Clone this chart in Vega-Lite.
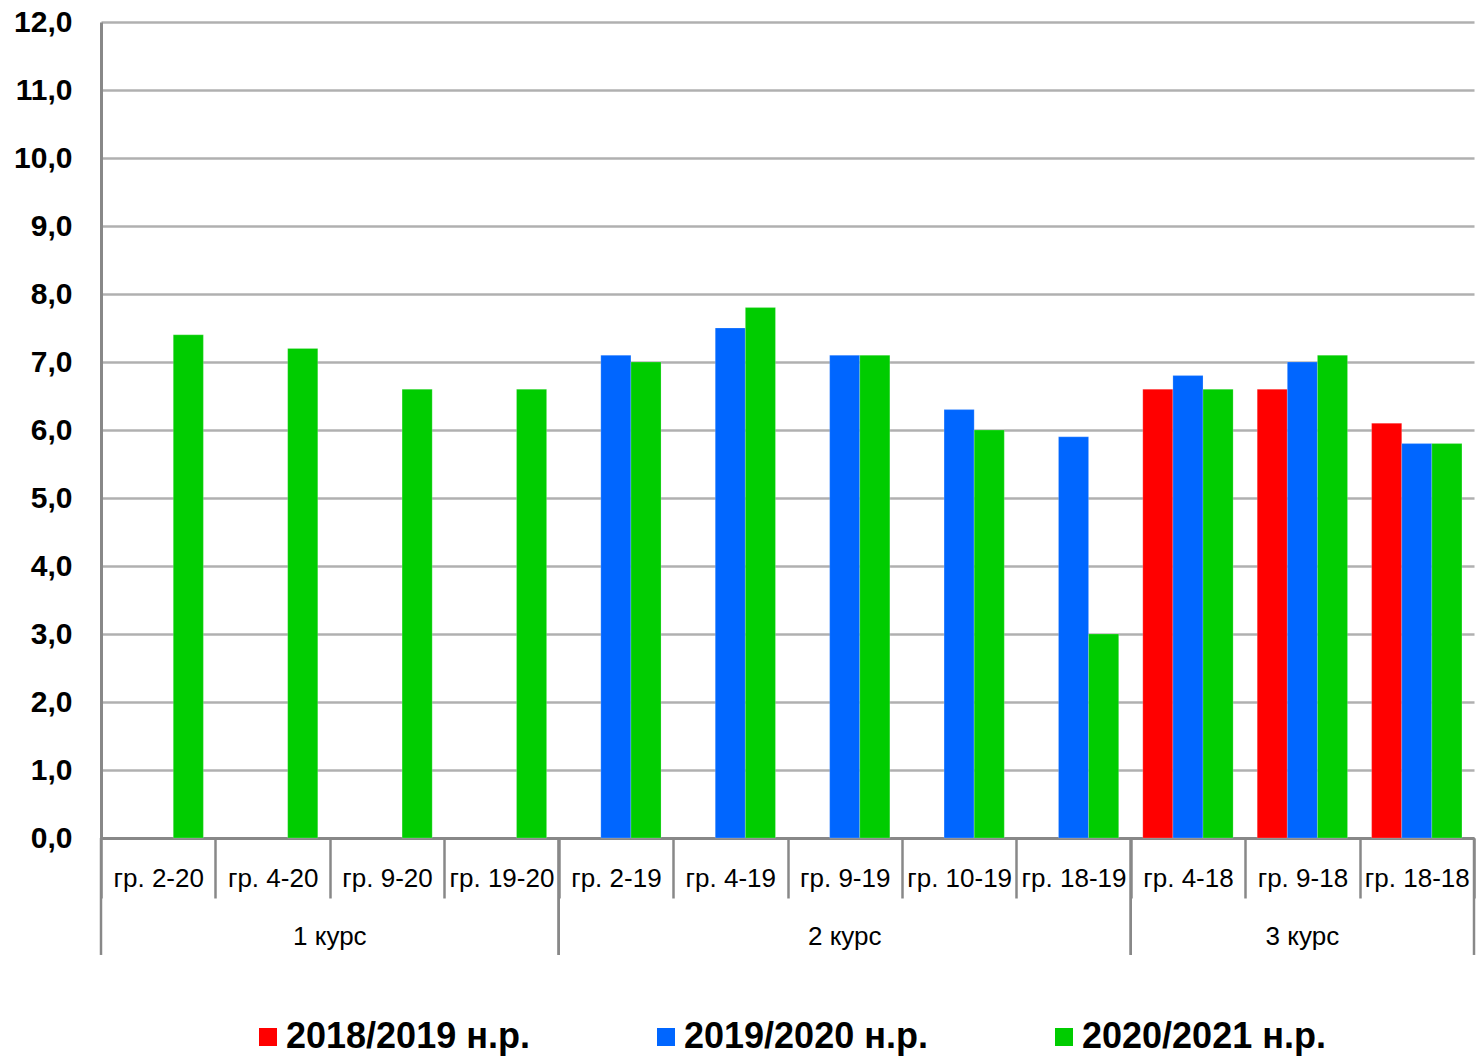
{
  "$schema": "https://vega.github.io/schema/vega-lite/v6.json",
  "autosize": {"type": "none"},
  "padding": {"left": 101, "top": 22, "right": 3, "bottom": 220},
  "width": 1373,
  "height": 816,
  "background": "white",
  "datasets": {
    "bars": [
      {"group": "гр. 2-20", "course": "1 курс", "year": "2020/2021 н.р.", "value": 7.4},
      {"group": "гр. 4-20", "course": "1 курс", "year": "2020/2021 н.р.", "value": 7.2},
      {"group": "гр. 9-20", "course": "1 курс", "year": "2020/2021 н.р.", "value": 6.6},
      {"group": "гр. 19-20", "course": "1 курс", "year": "2020/2021 н.р.", "value": 6.6},
      {"group": "гр. 2-19", "course": "2 курс", "year": "2019/2020 н.р.", "value": 7.1},
      {"group": "гр. 2-19", "course": "2 курс", "year": "2020/2021 н.р.", "value": 7.0},
      {"group": "гр. 4-19", "course": "2 курс", "year": "2019/2020 н.р.", "value": 7.5},
      {"group": "гр. 4-19", "course": "2 курс", "year": "2020/2021 н.р.", "value": 7.8},
      {"group": "гр. 9-19", "course": "2 курс", "year": "2019/2020 н.р.", "value": 7.1},
      {"group": "гр. 9-19", "course": "2 курс", "year": "2020/2021 н.р.", "value": 7.1},
      {"group": "гр. 10-19", "course": "2 курс", "year": "2019/2020 н.р.", "value": 6.3},
      {"group": "гр. 10-19", "course": "2 курс", "year": "2020/2021 н.р.", "value": 6.0},
      {"group": "гр. 18-19", "course": "2 курс", "year": "2019/2020 н.р.", "value": 5.9},
      {"group": "гр. 18-19", "course": "2 курс", "year": "2020/2021 н.р.", "value": 3.0},
      {"group": "гр. 4-18", "course": "3 курс", "year": "2018/2019 н.р.", "value": 6.6},
      {"group": "гр. 4-18", "course": "3 курс", "year": "2019/2020 н.р.", "value": 6.8},
      {"group": "гр. 4-18", "course": "3 курс", "year": "2020/2021 н.р.", "value": 6.6},
      {"group": "гр. 9-18", "course": "3 курс", "year": "2018/2019 н.р.", "value": 6.6},
      {"group": "гр. 9-18", "course": "3 курс", "year": "2019/2020 н.р.", "value": 7.0},
      {"group": "гр. 9-18", "course": "3 курс", "year": "2020/2021 н.р.", "value": 7.1},
      {"group": "гр. 18-18", "course": "3 курс", "year": "2018/2019 н.р.", "value": 6.1},
      {"group": "гр. 18-18", "course": "3 курс", "year": "2019/2020 н.р.", "value": 5.8},
      {"group": "гр. 18-18", "course": "3 курс", "year": "2020/2021 н.р.", "value": 5.8}
    ],
    "courses": [
      {"course": "1 курс", "first": "гр. 2-20", "last": "гр. 19-20", "center": "гр. 4-20", "between": true},
      {"course": "2 курс", "first": "гр. 2-19", "last": "гр. 18-19", "center": "гр. 9-19", "between": false},
      {"course": "3 курс", "first": "гр. 4-18", "last": "гр. 18-18", "center": "гр. 9-18", "between": false}
    ]
  },
  "config": {
    "view": {"stroke": null},
    "font": "Liberation Sans",
    "legend": {"layout": {"bottom": {"anchor": "middle"}}}
  },
  "layer": [
    {
      "data": {"name": "bars"},
      "mark": {"type": "bar", "stroke": "white", "strokeWidth": 0.5, "strokeOpacity": 0.4},
      "encoding": {
        "x": {
          "field": "group",
          "type": "nominal",
          "scale": {
            "domain": ["гр. 2-20", "гр. 4-20", "гр. 9-20", "гр. 19-20", "гр. 2-19", "гр. 4-19", "гр. 9-19", "гр. 10-19", "гр. 18-19", "гр. 4-18", "гр. 9-18", "гр. 18-18"],
            "paddingInner": 0,
            "paddingOuter": 0
          },
          "axis": {
            "title": null,
            "labelAngle": 0,
            "tickBand": "extent",
            "tickSize": 60,
            "tickColor": "#888888",
            "tickWidth": 2.5,
            "domainColor": "#888888",
            "domainWidth": 3,
            "labelFont": "Liberation Sans",
            "labelFontSize": 26,
            "labelColor": "#000000",
            "labelBaseline": "middle",
            "labelPadding": -20,
            "labelOverlap": false,
            "labelLimit": 300,
            "grid": false
          }
        },
        "xOffset": {
          "field": "year",
          "type": "nominal",
          "scale": {
            "domain": ["2018/2019 н.р.", "2019/2020 н.р.", "2020/2021 н.р."],
            "paddingInner": 0,
            "paddingOuter": 0.4
          }
        },
        "y": {
          "field": "value",
          "type": "quantitative",
          "scale": {"domain": [0, 12], "nice": false},
          "axis": {
            "title": null,
            "values": [0, 1, 2, 3, 4, 5, 6, 7, 8, 9, 10, 11, 12],
            "labelExpr": "replace(format(datum.value, '.1f'), '.', ',')",
            "labelFont": "Liberation Sans",
            "labelFontSize": 30,
            "labelFontWeight": "bold",
            "labelColor": "#000000",
            "labelPadding": 29,
            "ticks": false,
            "domainColor": "#888888",
            "domainWidth": 3,
            "grid": true,
            "gridColor": "#b0b0b0",
            "gridWidth": 2.5
          }
        },
        "color": {
          "field": "year",
          "type": "nominal",
          "scale": {
            "domain": ["2018/2019 н.р.", "2019/2020 н.р.", "2020/2021 н.р."],
            "range": ["#ff0000", "#0066ff", "#00cc00"]
          },
          "legend": {
            "title": null,
            "orient": "bottom",
            "direction": "horizontal",
            "offset": 119,
            "symbolType": "square",
            "symbolSize": 324,
            "symbolStrokeWidth": 0,
            "labelFont": "Liberation Sans",
            "labelFontSize": 36,
            "labelFontWeight": "bold",
            "labelColor": "#000000",
            "labelOffset": 0,
            "labelLimit": 400,
            "columnPadding": 118
          }
        }
      }
    },
    {
      "data": {"name": "courses"},
      "mark": {"type": "rule", "color": "#888888", "strokeWidth": 2.5},
      "encoding": {
        "x": {"field": "first", "type": "nominal", "bandPosition": 0},
        "y": {"datum": 0, "type": "quantitative"},
        "y2": {"datum": -1.72}
      }
    },
    {
      "data": {"name": "courses"},
      "mark": {"type": "rule", "color": "#888888", "strokeWidth": 2.5},
      "encoding": {
        "x": {"field": "last", "type": "nominal", "bandPosition": 1},
        "y": {"datum": 0, "type": "quantitative"},
        "y2": {"datum": -1.72}
      }
    },
    {
      "data": {"name": "courses"},
      "transform": [{"filter": "datum.between"}],
      "mark": {"type": "text", "font": "Liberation Sans", "fontSize": 26, "color": "#000000", "baseline": "middle", "align": "center"},
      "encoding": {
        "x": {"field": "center", "type": "nominal", "bandPosition": 1},
        "y": {"datum": -1.45, "type": "quantitative"},
        "text": {"field": "course"}
      }
    },
    {
      "data": {"name": "courses"},
      "transform": [{"filter": "!datum.between"}],
      "mark": {"type": "text", "font": "Liberation Sans", "fontSize": 26, "color": "#000000", "baseline": "middle", "align": "center"},
      "encoding": {
        "x": {"field": "center", "type": "nominal", "bandPosition": 0.5},
        "y": {"datum": -1.45, "type": "quantitative"},
        "text": {"field": "course"}
      }
    }
  ]
}
